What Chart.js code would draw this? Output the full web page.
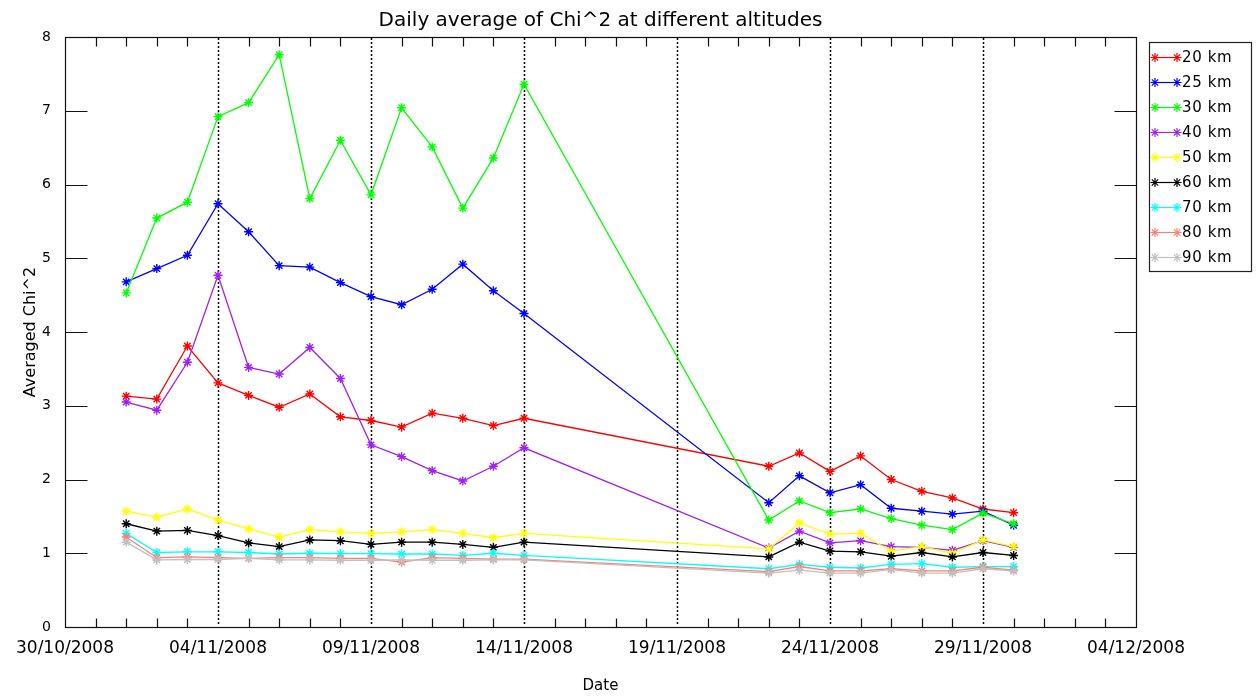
<!DOCTYPE html>
<html><head><meta charset="utf-8">
<script src="https://cdn.jsdelivr.net/npm/chart.js@4/dist/chart.umd.min.js"></script>
<style>html,body{margin:0;padding:0;background:#fff;}#wrap{position:relative;width:1259px;height:697px;}</style>
</head><body><div id="wrap"><canvas id="c" width="1259" height="697"></canvas></div>
<script>
const dates = ['01/11/2008','02/11/2008','03/11/2008','04/11/2008','05/11/2008','06/11/2008','07/11/2008',
  '08/11/2008','09/11/2008','10/11/2008','11/11/2008','12/11/2008','13/11/2008','14/11/2008',
  '22/11/2008','23/11/2008','24/11/2008','25/11/2008','26/11/2008','27/11/2008','28/11/2008','29/11/2008','30/11/2008'];
const xTickLabels = ['30/10/2008','04/11/2008','09/11/2008','14/11/2008','19/11/2008','24/11/2008','29/11/2008','04/12/2008'];
const yTickValues = [0,1,2,3,4,5,6,7,8];
const seriesNames = ['20 km','25 km','30 km','40 km','50 km','60 km','70 km','80 km','90 km'];
const km20 = [3.13,3.09,3.81,3.31,3.14,2.98,3.16,2.85,2.80,2.71,2.90,2.83,2.73,2.83, 2.18,2.36,2.11,2.32,2.00,1.84,1.75,1.60,1.55];
const km25 = [4.68,4.86,5.04,5.74,5.36,4.90,4.88,4.67,4.48,4.37,4.58,4.92,4.56,4.25, 1.685,2.05,1.82,1.93,1.61,1.57,1.53,1.57,1.38];
const km30 = [4.53,5.545,5.76,6.92,7.11,7.76,5.81,6.60,5.86,7.04,6.51,5.68,6.36,7.36, 1.45,1.71,1.55,1.60,1.47,1.38,1.32,1.545,1.40];
const km40 = [3.05,2.94,3.59,4.77,3.52,3.43,3.79,3.37,2.47,2.31,2.12,1.98,2.18,2.43, 1.07,1.30,1.14,1.17,1.09,1.08,1.04,1.17,1.08];
const km50 = [1.57,1.49,1.60,1.45,1.33,1.22,1.32,1.29,1.27,1.29,1.32,1.27,1.21,1.27, 1.06,1.41,1.26,1.27,1.03,1.09,1.00,1.18,1.09];
const km60 = [1.40,1.30,1.31,1.24,1.14,1.09,1.18,1.17,1.12,1.15,1.15,1.12,1.08,1.15, 0.95,1.15,1.03,1.02,0.96,1.01,0.95,1.01,0.97];
const km70 = [1.27,1.01,1.02,1.02,1.01,0.99,1.00,0.995,0.995,0.99,0.99,0.97,1.00,0.97, 0.79,0.85,0.81,0.80,0.85,0.86,0.81,0.82,0.82];
const km80 = [1.22,0.94,0.95,0.94,0.93,0.94,0.94,0.93,0.93,0.88,0.94,0.93,0.92,0.92, 0.75,0.82,0.76,0.76,0.79,0.76,0.76,0.81,0.77];
const km90 = [1.15,0.91,0.915,0.915,0.93,0.91,0.91,0.905,0.905,0.91,0.905,0.905,0.91,0.91, 0.73,0.77,0.73,0.73,0.78,0.73,0.73,0.79,0.76];
const seriesValues = [km20,km25,km30,km40,km50,km60,km70,km80,km90];
const seriesColors = ['#ff0000','#0000ff','#00ff00','#a020f0','#ffff00','#000000','#00ffff','#fa8072','#c0c0c0'];

const FONT = '"DejaVu Sans", sans-serif';
function dayNum(s){ const p = s.split('/').map(Number); return Date.UTC(p[2], p[1]-1, p[0]) / 86400000; }
const startDay = dayNum(xTickLabels[0]);
const endDay = dayNum(xTickLabels[xTickLabels.length-1]);
const xs = dates.map(d => dayNum(d) - startDay);
const xMax = endDay - startDay;
const labelStep = (dayNum(xTickLabels[1]) - startDay);

function drawStar(ctx, x, y, r){
  ctx.beginPath();
  ctx.moveTo(x - r, y); ctx.lineTo(x + r, y);
  ctx.moveTo(x, y - r); ctx.lineTo(x, y + r);
  const d = r * 0.7071;
  ctx.moveTo(x - d, y - d); ctx.lineTo(x + d, y + d);
  ctx.moveTo(x - d, y + d); ctx.lineTo(x + d, y - d);
  ctx.stroke();
}

const gridPlugin = {
  id: 'dottedGrid',
  beforeDatasetsDraw(chart){
    const {ctx, chartArea: a, scales: {x}} = chart;
    ctx.save();
    ctx.strokeStyle = '#000'; ctx.lineWidth = 1.5; ctx.setLineDash([2, 2]);
    for (let v = labelStep; v < xMax; v += labelStep){
      const px = Math.round(x.getPixelForValue(v)) + 0.5;
      ctx.beginPath(); ctx.moveTo(px, a.top + 1); ctx.lineTo(px, a.bottom - 1); ctx.stroke();
    }
    ctx.restore();
  }
};

const framePlugin = {
  id: 'frame',
  afterDraw(chart){
    const {ctx, chartArea: a, scales: {x, y}} = chart;
    ctx.save();
    ctx.strokeStyle = '#111'; ctx.lineWidth = 1.2;
    const L = Math.round(a.left) + 0.5, R = Math.round(a.right) + 0.5, T = Math.round(a.top) + 0.5, B = Math.round(a.bottom) + 0.5;
    ctx.strokeRect(L, T, R - L, B - T);
    ctx.beginPath();
    for (let v = 1; v < xMax; v++){
      if (v % labelStep === 0) continue;
      const px = Math.round(x.getPixelForValue(v)) + 0.5;
      ctx.moveTo(px, B); ctx.lineTo(px, B - 9);
      ctx.moveTo(px, T); ctx.lineTo(px, T + 9);
    }
    for (let i = 1; i < yTickValues.length - 1; i++){
      const py = Math.round(y.getPixelForValue(yTickValues[i])) + 0.5;
      ctx.moveTo(L, py); ctx.lineTo(L + 22, py);
      ctx.moveTo(R, py); ctx.lineTo(R - 22, py);
    }
    ctx.stroke();
    ctx.restore();
  }
};

const legendPlugin = {
  id: 'boxLegend',
  afterDraw(chart){
    const ctx = chart.ctx;
    ctx.save();
    ctx.strokeStyle = '#222'; ctx.lineWidth = 1.2;
    ctx.strokeRect(1149.5, 42.5, 102, 229);
    ctx.font = '15px ' + FONT;
    ctx.textBaseline = 'middle'; ctx.textAlign = 'left';
    try { ctx.letterSpacing = '0.6px'; } catch(e) {}
    seriesNames.forEach((name, i) => {
      const yy = 57 + 25 * i;
      ctx.strokeStyle = seriesColors[i]; ctx.lineWidth = 1.2;
      ctx.beginPath(); ctx.moveTo(1151, yy + 0.5); ctx.lineTo(1178, yy + 0.5); ctx.stroke();
      drawStar(ctx, 1155, yy + 0.5, 4.5);
      drawStar(ctx, 1177, yy + 0.5, 4.5);
      ctx.fillStyle = '#000';
      ctx.fillText(name, 1182, yy + 1);
    });
    ctx.restore();
  }
};

const datasets = seriesNames.map((name, i) => ({
  label: name,
  data: xs.map((xv, j) => ({x: xv, y: seriesValues[i][j]})),
  borderColor: seriesColors[i],
  backgroundColor: seriesColors[i],
  pointBorderColor: seriesColors[i],
  borderWidth: 1.3,
  pointStyle: 'star',
  pointRadius: 4.5,
  pointBorderWidth: 1.4,
  tension: 0,
  fill: false,
  order: seriesNames.length - i
}));

new Chart(document.getElementById('c'), {
  type: 'line',
  data: { datasets },
  options: {
    responsive: false,
    animation: false,
    devicePixelRatio: 1,
    layout: { padding: { left: 0, right: 123, top: 0, bottom: 0 } },
    plugins: {
      legend: { display: false },
      tooltip: { enabled: false },
      title: {
        display: true,
        fullSize: false,
        text: 'Daily average of Chi^2 at different altitudes',
        color: '#000',
        font: { family: FONT, size: 20, weight: 'normal' },
        padding: { top: 9, bottom: 4 }
      }
    },
    scales: {
      x: {
        type: 'linear',
        min: 0, max: xMax,
        afterFit: s => { s.height = 70; },
        grid: { display: false, drawTicks: false },
        border: { display: false },
        ticks: {
          stepSize: labelStep,
          autoSkip: false, maxRotation: 0,
          padding: 11,
          color: '#000',
          font: { family: FONT, size: 17 },
          callback: v => xTickLabels[Math.round(v / labelStep)] || ''
        },
        title: {
          display: true, text: 'Date', color: '#000',
          font: { family: FONT, size: 15 },
          padding: { top: 0, bottom: 2 }
        }
      },
      y: {
        min: yTickValues[0], max: yTickValues[yTickValues.length - 1],
        afterFit: s => { s.width = 65; },
        grid: { display: false, drawTicks: false },
        border: { display: false },
        afterBuildTicks: s => { s.ticks = yTickValues.map(v => ({value: v})); },
        ticks: {
          padding: 14, color: '#000',
          font: { family: FONT, size: 14 }
        },
        title: {
          display: true, text: 'Averaged Chi^2', color: '#000',
          font: { family: FONT, size: 16 },
          padding: { top: 21, bottom: 0 }
        }
      }
    }
  },
  plugins: [gridPlugin, framePlugin, legendPlugin]
});
</script>
</body></html>
